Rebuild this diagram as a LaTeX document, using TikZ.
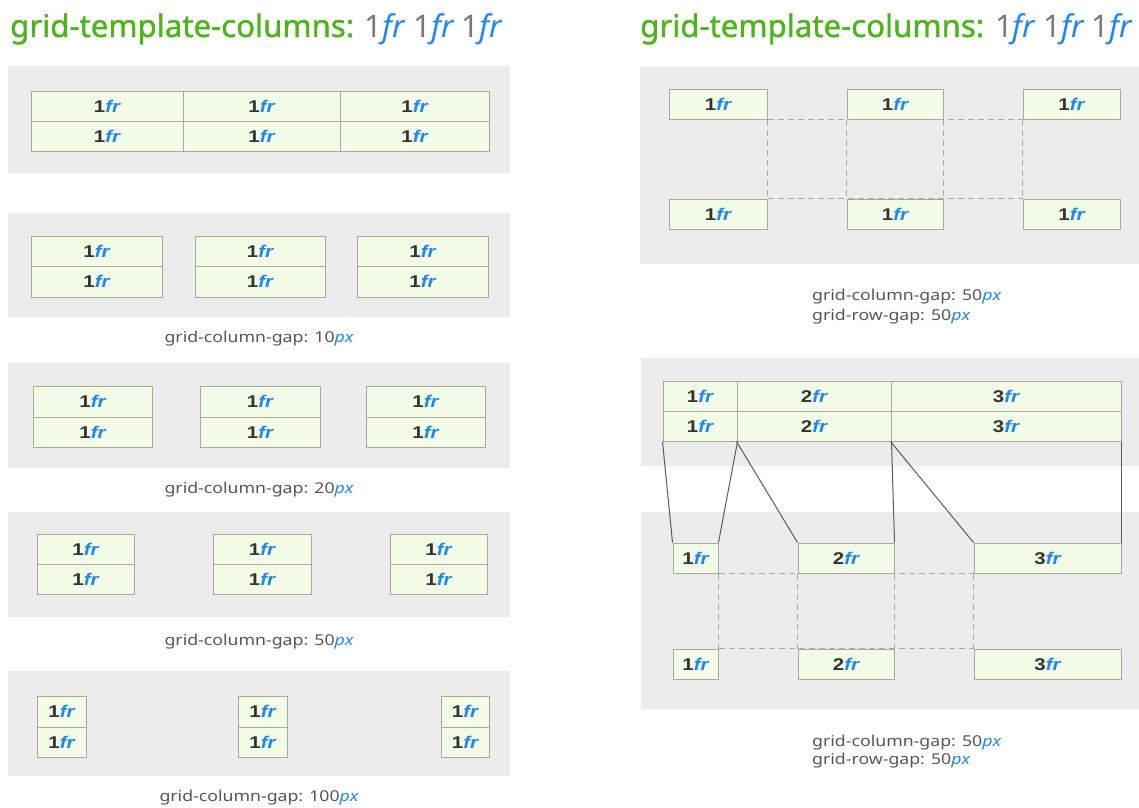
\documentclass[tikz,border=0pt]{standalone}
\usepackage{fontspec}
\setmainfont{Noto Sans}
\newfontfamily\cellfont{Liberation Sans}
\newfontfamily\titlefont[FakeBold=1.2]{Noto Sans}
\definecolor{panelgray}{HTML}{ECECEC}
\definecolor{cellfill}{HTML}{F1FBE6}
\definecolor{cellline}{HTML}{A7A99A}
\definecolor{frblue}{HTML}{1E88F0}
\definecolor{titlegreen}{HTML}{4CB519}
\definecolor{numgray}{HTML}{7A7A7A}
\definecolor{labelgray}{HTML}{555555}
\definecolor{textdark}{HTML}{333333}
\definecolor{dashgray}{HTML}{ABABAB}
\definecolor{linkgray}{HTML}{5A5A5A}
\pgfdeclarelayer{panels}
\pgfdeclarelayer{dashes}
\pgfsetlayers{panels,dashes,main}
\newcommand\frtext[1]{\scalebox{1.2}[1]{\cellfont\bfseries\color{textdark}#1\textcolor{frblue}{\itshape fr}}}
\newcommand\titletext{{\titlefont\color{titlegreen}grid-template-columns: }{\color{numgray}1}{\color{frblue}\itshape fr} {\color{numgray}1}{\color{frblue}\itshape fr} {\color{numgray}1}{\color{frblue}\itshape fr}}
\newcommand\pxu{\textcolor{frblue}{\itshape px}}
\newcommand\gaptext[1]{\scalebox{1.18}[1]{#1}}
% \gridcell{name}{x1}{y1}{x2}{y2}{text}
\newcommand\gridcell[6]{%
  \node[cellbox, minimum width={(#4-#2)*1pt}, minimum height={(#5-#3)*1pt}]
    (#1) at ({(#2+#4)/2},{(#3+#5)/2}) {#6};}
\begin{document}
\begin{tikzpicture}[x=1pt,y=-1pt,
  panel/.style={fill=panelgray},
  cellbox/.style={draw=cellline, fill=cellfill, line width=1pt, inner sep=0pt,
    font=\fontsize{17}{17}\selectfont},
  titlestyle/.style={anchor=base west, inner sep=0pt, font=\fontsize{31.2}{31.2}\selectfont},
  gaplabel/.style={inner sep=0pt, text=labelgray, font=\fontsize{15}{15}\selectfont},
  gaplabelL/.style={gaplabel, anchor=base west},
  dashline/.style={draw=dashgray, line width=1pt, dash pattern=on 6pt off 4pt},
  linkline/.style={draw=linkgray, line width=1pt}]
\useasboundingbox (0,0) rectangle (1139,807);

% ---------- titles ----------
\node[titlestyle] (titleL) at (10,37) {\titletext};
\node[titlestyle] (titleR) at (640,37) {\titletext};

% ---------- panels ----------
\begin{pgfonlayer}{panels}
\fill[panel] (8,66) rectangle (510,173);
\fill[panel] (8,213) rectangle (510,317);
\fill[panel] (8,363) rectangle (510,468);
\fill[panel] (8,512) rectangle (510,617);
\fill[panel] (8,671) rectangle (510,776);
\fill[panel] (640,67) rectangle (1139,264);
\fill[panel] (641,358) rectangle (1139,466);
\fill[panel] (641,512) rectangle (1139,709);
\end{pgfonlayer}

% panel 1: no gap
\gridcell{p1a11}{31}{91}{183}{121}{\frtext{1}}
\gridcell{p1a12}{183}{91}{340}{121}{\frtext{1}}
\gridcell{p1a13}{340}{91}{489}{121}{\frtext{1}}
\gridcell{p1a21}{31}{121}{183}{151}{\frtext{1}}
\gridcell{p1a22}{183}{121}{340}{151}{\frtext{1}}
\gridcell{p1a23}{340}{121}{489}{151}{\frtext{1}}

% panel 2: 10px
\gridcell{p2a11}{31}{236}{162}{266}{\frtext{1}}
\gridcell{p2a12}{195}{236}{325}{266}{\frtext{1}}
\gridcell{p2a13}{357}{236}{488}{266}{\frtext{1}}
\gridcell{p2a21}{31}{266}{162}{297}{\frtext{1}}
\gridcell{p2a22}{195}{266}{325}{297}{\frtext{1}}
\gridcell{p2a23}{357}{266}{488}{297}{\frtext{1}}
\node[gaplabel] (lab2) at (259,339) {\gaptext{grid-column-gap: 10\pxu}};

% panel 3: 20px
\gridcell{p3a11}{33}{386}{152}{417}{\frtext{1}}
\gridcell{p3a12}{200}{386}{320}{417}{\frtext{1}}
\gridcell{p3a13}{366}{386}{485}{417}{\frtext{1}}
\gridcell{p3a21}{33}{417}{152}{447}{\frtext{1}}
\gridcell{p3a22}{200}{417}{320}{447}{\frtext{1}}
\gridcell{p3a23}{366}{417}{485}{447}{\frtext{1}}
\node[gaplabel] (lab3) at (259,490) {\gaptext{grid-column-gap: 20\pxu}};

% panel 4: 50px
\gridcell{p4a11}{37}{534}{134}{564}{\frtext{1}}
\gridcell{p4a12}{213}{534}{311}{564}{\frtext{1}}
\gridcell{p4a13}{390}{534}{487}{564}{\frtext{1}}
\gridcell{p4a21}{37}{564}{134}{594}{\frtext{1}}
\gridcell{p4a22}{213}{564}{311}{594}{\frtext{1}}
\gridcell{p4a23}{390}{564}{487}{594}{\frtext{1}}
\node[gaplabel] (lab4) at (259,642) {\gaptext{grid-column-gap: 50\pxu}};

% panel 5: 100px
\gridcell{p5a11}{37}{696}{86}{727}{\frtext{1}}
\gridcell{p5a12}{238}{696}{287}{727}{\frtext{1}}
\gridcell{p5a13}{441}{696}{489}{727}{\frtext{1}}
\gridcell{p5a21}{37}{727}{86}{757}{\frtext{1}}
\gridcell{p5a22}{238}{727}{287}{757}{\frtext{1}}
\gridcell{p5a23}{441}{727}{489}{757}{\frtext{1}}
\node[gaplabel] (lab5) at (259,798) {\gaptext{grid-column-gap: 100\pxu}};

% ---------- right panel 1 ----------
\gridcell{q11}{669}{89}{767}{119}{\frtext{1}}
\gridcell{q12}{847}{89}{943}{119}{\frtext{1}}
\gridcell{q13}{1023}{89}{1120}{119}{\frtext{1}}
\gridcell{q21}{669}{199}{767}{229}{\frtext{1}}
\gridcell{q22}{847}{199}{943}{229}{\frtext{1}}
\gridcell{q23}{1023}{199}{1120}{229}{\frtext{1}}
\begin{pgfonlayer}{dashes}
\draw[dashline] (q11.south east) -- (q13.south west);
\draw[dashline] (q21.north east) -- (q23.north west);
\draw[dashline] (q11.south east) -- (q21.north east);
\draw[dashline] (q12.south west) -- (q22.north west);
\draw[dashline] (q12.south east) -- (q22.north east);
\draw[dashline] (q13.south west) -- (q23.north west);
\end{pgfonlayer}
\node[gaplabelL] (labR1a) at (812,300) {\gaptext{grid-column-gap: 50\pxu}};
\node[gaplabelL] (labR1b) at (812,320) {\gaptext{grid-row-gap: 50\pxu}};

% ---------- right panel 2 ----------
\gridcell{t11}{663}{381}{737}{411}{\frtext{1}}
\gridcell{t12}{737}{381}{891}{411}{\frtext{2}}
\gridcell{t13}{891}{381}{1121}{411}{\frtext{3}}
\gridcell{t21}{663}{411}{737}{441}{\frtext{1}}
\gridcell{t22}{737}{411}{891}{441}{\frtext{2}}
\gridcell{t23}{891}{411}{1121}{441}{\frtext{3}}

\gridcell{b11}{673}{543}{718}{573}{\frtext{1}}
\gridcell{b12}{798}{543}{894}{573}{\frtext{2}}
\gridcell{b13}{974}{543}{1121}{573}{\frtext{3}}
\gridcell{b21}{673}{649}{718}{679}{\frtext{1}}
\gridcell{b22}{798}{649}{894}{679}{\frtext{2}}
\gridcell{b23}{974}{649}{1121}{679}{\frtext{3}}

\begin{pgfonlayer}{dashes}
\draw[dashline] (b11.south east) -- (b13.south west);
\draw[dashline] (b21.north east) -- (b23.north west);
\draw[dashline] (b11.south east) -- (b21.north east);
\draw[dashline] (b12.south west) -- (b22.north west);
\draw[dashline] (b12.south east) -- (b22.north east);
\draw[dashline] (b13.south west) -- (b23.north west);
\end{pgfonlayer}

\draw[linkline] (t21.south west) -- (b11.north west);
\draw[linkline] (t21.south east) -- (b11.north east);
\draw[linkline] (t22.south west) -- (b12.north west);
\draw[linkline] (t22.south east) -- (b12.north east);
\draw[linkline] (t23.south west) -- (b13.north west);
\draw[linkline] (t23.south east) -- (b13.north east);

\node[gaplabelL] (labR2a) at (812,746) {\gaptext{grid-column-gap: 50\pxu}};
\node[gaplabelL] (labR2b) at (812,764) {\gaptext{grid-row-gap: 50\pxu}};
\end{tikzpicture}
\end{document}
